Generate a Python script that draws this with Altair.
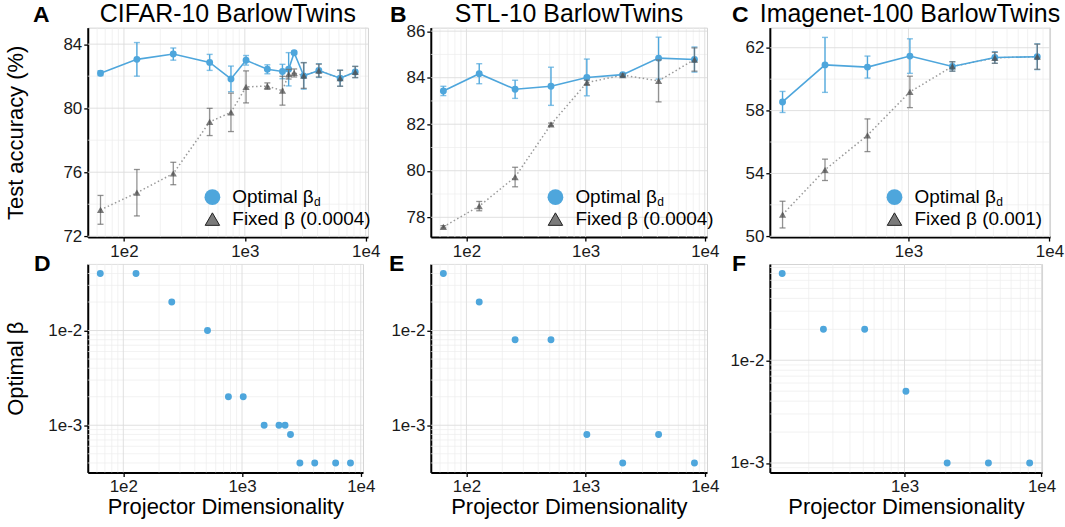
import math
import altair as alt
import pandas as pd

FONT = "Liberation Sans"
BLUE = "#4EA6DC"
TRI = "#4a4a4a"
ERRG = "#6e6e6e"

# ---------------- data ----------------
# A: CIFAR-10 BarlowTwins
a_dims = [64, 128, 256, 512, 768, 1024, 1536, 2048, 2304, 2560, 3072, 4096, 6144, 8192]
a_opt = [82.18, 83.05, 83.38, 82.86, 81.83, 82.99, 82.43, 82.29, 82.43, 83.46, 82.02, 82.35, 81.87, 82.26]
a_opt_err = [0.15, 1.05, 0.38, 0.5, 0.8, 0.3, 0.28, 0.45, 1.04, 0.1, 0.83, 0.43, 0.5, 0.35]
a_fix = [73.65, 74.72, 75.92, 79.14, 79.74, 81.33, 81.38, 81.09, 82.12, 82.2, 82.04, 82.35, 81.87, 82.26]
a_fix_err = [0.9, 1.45, 0.7, 0.85, 1.2, 1.0, 0.2, 0.9, 0.3, 0.25, 0.8, 0.4, 0.5, 0.35]
a_yticks = [72, 76, 80, 84]

# B: STL-10 BarlowTwins
b_dims = [64, 128, 256, 512, 1024, 2048, 4096, 8192]
b_opt = [83.43, 84.17, 83.5, 83.63, 84.01, 84.13, 84.84, 84.78]
b_opt_err = [0.2, 0.43, 0.39, 0.82, 0.79, 0.05, 0.9, 0.54]
b_fix = [77.59, 78.48, 79.73, 81.99, 83.79, 84.11, 83.86, 84.78]
b_fix_err = [0.05, 0.2, 0.42, 0.06, 0.1, 0.05, 0.9, 0.5]
b_yticks = [78, 80, 82, 84, 86]

# C: Imagenet-100 BarlowTwins
c_dims = [128, 256, 512, 1024, 2048, 4096, 8192]
c_opt = [58.55, 60.91, 60.77, 61.47, 60.81, 61.38, 61.43]
c_opt_err = [0.67, 1.75, 0.7, 1.1, 0.3, 0.37, 0.82]
c_fix = [51.38, 54.23, 56.43, 59.19, 60.81, 61.36, 61.43]
c_fix_err = [0.85, 0.68, 1.04, 1.0, 0.3, 0.35, 0.8]
c_yticks = [50, 54, 58, 62]

# D/E/F: optimal beta
d_beta = [0.04, 0.04, 0.02, 0.01, 0.002, 0.002, 0.001, 0.001, 0.001, 0.0008, 0.0004, 0.0004, 0.0004, 0.0004]
e_beta = [0.04, 0.02, 0.008, 0.008, 0.0008, 0.0004, 0.0008, 0.0004]
f_beta = [0.07, 0.02, 0.02, 0.005, 0.001, 0.001, 0.001]

titles = ["CIFAR-10 BarlowTwins", "STL-10 BarlowTwins", "Imagenet-100 BarlowTwins"]
letters = ["A", "B", "C", "D", "E", "F"]
fixed_labels = ["Fixed β (0.0004)", "Fixed β (0.0004)", "Fixed β (0.001)"]

XDOM_WIDE = [50.2, 10440]
XDOM_NARROW = [104, 10090]


def log_grid(lo, hi):
    major, minor = [], []
    for e in range(-5, 6):
        for k in range(1, 10):
            v = k * 10.0 ** e
            if lo <= v <= hi:
                (major if k == 1 else minor).append(v)
    return major, minor


def lin_grid(lo, hi, ticks):
    step = ticks[1] - ticks[0]
    minor = [t + step / 2 for t in [ticks[0] - step] + ticks]
    minor = [m for m in minor if lo <= m <= hi]
    return ticks, minor


def axis_kw(values, title=None, log_labels=False, **extra):
    kw = dict(values=values, grid=False, domainColor="black", domainWidth=2,
              tickColor="black", tickWidth=1.3, tickSize=4,
              labelFont=FONT, labelFontSize=17, labelColor="#1a1a1a",
              labelPadding=2, labelFlush=False,
              titleFont=FONT, titleFontSize=22, titleFontWeight="normal",
              titleColor="black", title=title)
    if log_labels:
        kw["labelExpr"] = "'1e' + round(log(datum.value) / LN10)"
    kw.update(extra)
    return alt.Axis(**kw)


def grid_layers(xgrid, ygrid, X, Y):
    xmaj, xmin = xgrid
    ymaj, ymin = ygrid
    out = []
    out.append(alt.Chart(pd.DataFrame({"g": xmin})).mark_rule(color="#ececec", strokeWidth=0.7).encode(x=X("g")))
    out.append(alt.Chart(pd.DataFrame({"g": ymin})).mark_rule(color="#ececec", strokeWidth=0.7).encode(y=Y("g")))
    out.append(alt.Chart(pd.DataFrame({"g": xmaj})).mark_rule(color="#dcdcdc", strokeWidth=0.9).encode(x=X("g")))
    out.append(alt.Chart(pd.DataFrame({"g": ymaj})).mark_rule(color="#dcdcdc", strokeWidth=0.9).encode(y=Y("g")))
    return out


def text_layer(txt, dx, dy, size, weight="normal", align="left"):
    return alt.Chart(pd.DataFrame({"t": [txt]})).mark_text(
        font=FONT, fontSize=size, fontWeight=weight, align=align, baseline="alphabetic", color="black"
    ).encode(text="t:N", x=alt.value(dx), y=alt.value(dy))


def top_panel(i, dims, opt, opt_err, fix, fix_err, xdom, ydom, yticks, width, height, ytitle, letter_dx):
    xmaj, xmin = log_grid(*xdom)
    ymaj, ymin = lin_grid(ydom[0], ydom[1], yticks)
    xs = alt.Scale(type="log", domain=xdom, nice=False)
    ys = alt.Scale(domain=ydom, nice=False, zero=False)
    xaxis = axis_kw(xmaj, log_labels=True)
    yextra = {}
    if ytitle:
        yextra = dict(titleX=-60, titleY=height / 2)
    yaxis = axis_kw(ymaj, title=ytitle, **yextra)

    def X(f):
        return alt.X(f"{f}:Q", scale=xs, axis=xaxis)

    def Y(f):
        return alt.Y(f"{f}:Q", scale=ys, axis=yaxis)

    df = pd.DataFrame({
        "dim": dims, "opt": opt,
        "opt_lo": [v - e for v, e in zip(opt, opt_err)],
        "opt_hi": [v + e for v, e in zip(opt, opt_err)],
        "fix": fix,
        "fix_lo": [v - e for v, e in zip(fix, fix_err)],
        "fix_hi": [v + e for v, e in zip(fix, fix_err)],
    })
    base = alt.Chart(df)
    layers = grid_layers((xmaj, xmin), (ymaj, ymin), X, Y)
    layers += [
        base.mark_line(color="#9a9a9a", strokeDash=[1.5, 2.5], strokeWidth=1.5).encode(x=X("dim"), y=Y("fix")),
        base.mark_line(color=BLUE, strokeWidth=1.6).encode(x=X("dim"), y=Y("opt")),
        base.mark_rule(color=BLUE, strokeWidth=1.4).encode(x=X("dim"), y=Y("opt_lo"), y2=alt.Y2("opt_hi")),
        base.mark_tick(color=BLUE, orient="horizontal", size=6, thickness=1.4).encode(x=X("dim"), y=Y("opt_lo")),
        base.mark_tick(color=BLUE, orient="horizontal", size=6, thickness=1.4).encode(x=X("dim"), y=Y("opt_hi")),
        base.mark_circle(color=BLUE, size=48, opacity=1).encode(x=X("dim"), y=Y("opt")),
        base.mark_rule(color=ERRG, strokeWidth=1.3, opacity=0.75).encode(x=X("dim"), y=Y("fix_lo"), y2=alt.Y2("fix_hi")),
        base.mark_tick(color=ERRG, orient="horizontal", size=6, thickness=1.3, opacity=0.75).encode(x=X("dim"), y=Y("fix_lo")),
        base.mark_tick(color=ERRG, orient="horizontal", size=6, thickness=1.3, opacity=0.75).encode(x=X("dim"), y=Y("fix_hi")),
        base.mark_point(shape="triangle-up", filled=True, color=TRI, size=52, opacity=0.72).encode(x=X("dim"), y=Y("fix")),
    ]
    # legend (inside, bottom-right)
    one = pd.DataFrame({"t": ["Optimal β", fixed_labels[i], "d"]})
    layers += [
        alt.Chart(one.iloc[[0]]).mark_circle(color=BLUE, size=250, opacity=1).encode(x=alt.value(125), y=alt.value(170)),
        alt.Chart(one.iloc[[1]]).mark_point(shape="triangle-up", filled=True, fill="#7a7a7a", stroke="#222222",
                                            strokeWidth=1, size=210, opacity=1).encode(x=alt.value(125), y=alt.value(192)),
        alt.Chart(one.iloc[[0]]).mark_text(font=FONT, fontSize=19, align="left", baseline="middle", color="black").encode(
            text="t:N", x=alt.value(145), y=alt.value(170)),
        alt.Chart(one.iloc[[1]]).mark_text(font=FONT, fontSize=19, align="left", baseline="middle", color="black").encode(
            text="t:N", x=alt.value(145), y=alt.value(192)),
        alt.Chart(one.iloc[[2]]).mark_text(font=FONT, fontSize=12, align="left", baseline="alphabetic", color="black").encode(
            text="t:N", x=alt.value(227), y=alt.value(179)),
        text_layer(letters[i], letter_dx, -6, 23, weight="bold"),
        text_layer(titles[i], width / 2, -6, 25, align="center"),
    ]
    return alt.layer(*layers).properties(width=width, height=height)


def bottom_panel(i, dims, beta, xdom, ydom, width, height, ytitle, letter_dx):
    xmaj, xmin = log_grid(*xdom)
    ymaj, ymin = log_grid(*ydom)
    xs = alt.Scale(type="log", domain=xdom, nice=False)
    ys = alt.Scale(type="log", domain=ydom, nice=False)
    xaxis = axis_kw(xmaj, title="Projector Dimensionality", log_labels=True, titlePadding=2)
    yextra = {}
    if ytitle:
        yextra = dict(titleX=-60, titleY=height / 2)
    yaxis = axis_kw(ymaj, title=ytitle, log_labels=True, **yextra)

    def X(f):
        return alt.X(f"{f}:Q", scale=xs, axis=xaxis)

    def Y(f):
        return alt.Y(f"{f}:Q", scale=ys, axis=yaxis)

    df = pd.DataFrame({"dim": dims, "beta": beta})
    layers = grid_layers((xmaj, xmin), (ymaj, ymin), X, Y)
    layers += [
        alt.Chart(df).mark_circle(color=BLUE, size=48, opacity=1).encode(x=X("dim"), y=Y("beta")),
        text_layer(letters[i], letter_dx, 7, 23, weight="bold"),
    ]
    return alt.layer(*layers).properties(width=width, height=height)


A = top_panel(0, a_dims, a_opt, a_opt_err, a_fix, a_fix_err, XDOM_WIDE, [71.95, 85.03], a_yticks, 281, 210,
              "Test accuracy (%)", -55)
B = top_panel(1, b_dims, b_opt, b_opt_err, b_fix, b_fix_err, XDOM_WIDE, [77.15, 86.15], b_yticks, 277, 210, None, -41)
C = top_panel(2, c_dims, c_opt, c_opt_err, c_fix, c_fix_err, XDOM_NARROW, [49.95, 63.28], c_yticks, 281, 210, None, -38)
D = bottom_panel(3, a_dims, d_beta, XDOM_WIDE, [0.000318, 0.0504], 276, 209, "Optimal β", -54)
E = bottom_panel(4, b_dims, e_beta, XDOM_WIDE, [0.000318, 0.0504], 277, 209, None, -42)
F = bottom_panel(5, c_dims, f_beta, XDOM_NARROW, [0.00081, 0.0865], 273, 209, None, -38)

chart = alt.concat(A, B, C, D, E, F, columns=3, spacing=alt.RowColnumber(row=27, column=63),
                   bounds="flush").properties(
    padding={"left": 4, "top": 0, "right": 0, "bottom": 0},
    background="white",
).configure_view(stroke="#d4d4d4", strokeWidth=1)

chart.save("out.html", embed_options={"renderer": "svg", "actions": False})
